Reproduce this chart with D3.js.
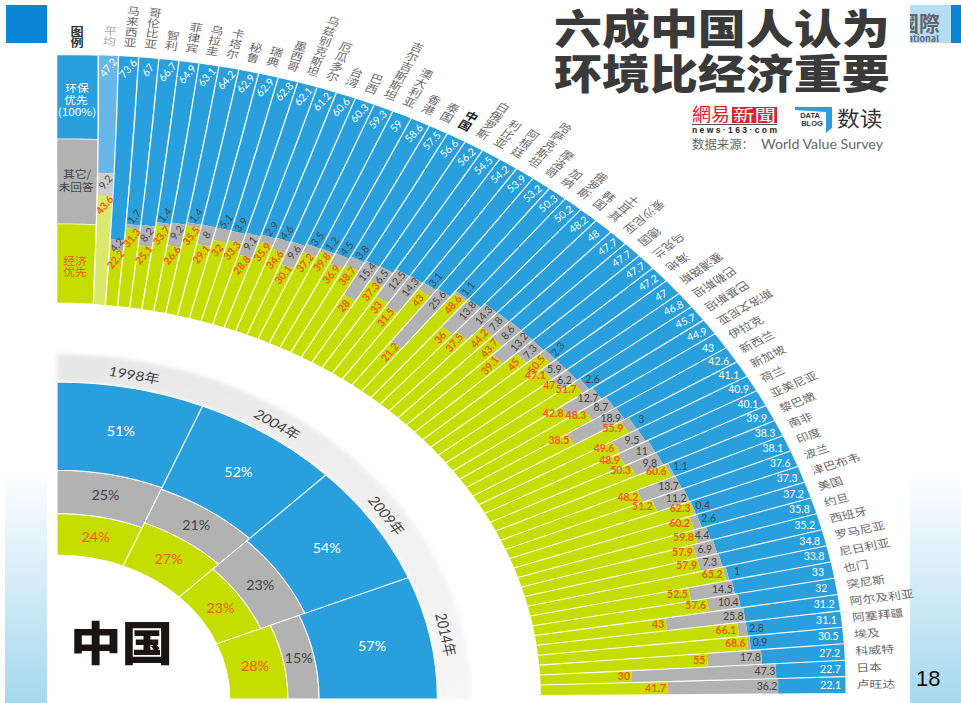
<!DOCTYPE html>
<html>
<head>
<meta charset="utf-8">
<script src="https://cdnjs.cloudflare.com/ajax/libs/d3/7.8.5/d3.min.js"></script>
<style>
  body { margin: 0; background: #fff; }
  text { font-family: "Noto Sans CJK SC", "Noto Sans", sans-serif; }
  .num { font-family: Lato, "Noto Sans", sans-serif; font-size: 10.5px; }
  .econ { font-weight: 700; }
</style>
</head>
<body>
<div id="chart"></div>
<script>
// first entry of each list is the average column
const countries = ["平均", "马来西亚", "哥伦比亚", "智利", "菲律宾", "乌拉圭", "卡塔尔", "秘鲁", "瑞典", "墨西哥", "乌兹别克斯坦",
    "厄瓜多尔", "台湾", "巴西", "吉尔吉斯斯坦", "澳大利亚", "香港", "泰国", "中国", "白俄罗斯", "利比亚",
    "阿根廷", "哈萨克斯坦", "摩洛哥", "加纳", "俄罗斯", "韩国", "土耳其", "爱沙尼亚", "德国", "乌克兰",
    "海地", "塞浦路斯", "巴勒斯坦", "巴基斯坦", "斯洛文尼亚", "伊拉克", "新西兰", "新加坡", "荷兰", "亚美尼亚",
    "黎巴嫩", "南非", "印度", "波兰", "津巴布韦", "美国", "约旦", "西班牙", "罗马尼亚", "尼日利亚",
    "也门", "突尼斯", "阿尔及利亚", "阿塞拜疆", "埃及", "科威特", "日本", "卢旺达"];
const envValues = [47.2, 73.6, 67, 66.7, 64.9, 63.1, 64.2, 62.9, 62.9, 62.8, 62.1,
    61.2, 60.6, 60.3, 59.3, 59, 58.6, 57.5, 56.6, 56.2, 54.5,
    54.2, 53.9, 53.2, 50.3, 50.2, 48.2, 48, 47.7, 47.7, 47.7,
    47.2, 47, 46.8, 45.7, 44.9, 43, 42.6, 41.1, 40.9, 40.1,
    39.9, 38.3, 38.1, 37.6, 37.3, 37.2, 35.8, 35.2, 34.8, 33.8,
    33, 32, 31.2, 31.1, 30.5, 27.2, 22.7, 22.1];
const otherValues = [9.2, 4.2, 1.7, 8.2, 1.4, 9.2, 1.4, 8, 5.1, 3.9, 9.1,
    2.9, 4.6, 9.6, 3.5, 1.2, 4.5, 3.8, 15.4, 6.5, 12.5,
    14.3, 3.1, 25.6, 1.1, 13.8, 14.3, 7.8, 8.6, 13.2, 7.3,
    2.3, 5.9, 6.2, 2.6, 12.7, 8.7, 18.9, 3, 9.5, 11,
    9.8, 1.1, 13.7, 11.2, 0.4, 2.6, 4.4, 6.9, 7.3, 1,
    14.5, 10.4, 25.8, 2.8, 0.9, 17.8, 47.3, 36.2];
const econValues = [43.6, 22.2, 31.3, 25.1, 33.7, 26.6, 35.5, 29.1, 32, 33.3, 28.8,
    35.9, 34.6, 30.1, 37.2, 39.8, 36.9, 38.7, 28, 37.3, 33,
    31.5, 43, 21.2, 48.6, 36, 37.5, 44.2, 43.7, 39.1, 45,
    50.5, 47.1, 47, 51.7, 42.8, 48.3, 38.5, 55.9, 49.6, 48.9,
    50.3, 60.6, 48.2, 51.2, 62.3, 60.2, 59.8, 57.9, 57.9, 65.2,
    52.5, 57.6, 43, 66.1, 68.6, 55, 30, 41.7];

const chinaYears = ["1998年", "2004年", "2009年", "2014年"];
const chinaEnv = [51, 52, 54, 57];
const chinaOther = [25, 21, 23, 15];
const chinaEcon = [24, 27, 23, 28];

const width = 961;
const height = 703;
const BLUE = "#29a0dd", GRAY = "#b2b2b2", GREEN = "#c5de00";
const ORANGE = "#f25a12", DARK = "#444";

const svg = d3.select("#chart").append("svg")
    .attr("width", width)
    .attr("height", height)
    .style("display", "block");

const defs = svg.append("defs");
const band = defs.append("linearGradient").attr("id", "band")
    .attr("x1", 0).attr("y1", 0).attr("x2", 0).attr("y2", 1);
band.append("stop").attr("offset", "0").attr("stop-color", "#fff");
band.append("stop").attr("offset", "1").attr("stop-color", "#a6d8ef");
const shadow = defs.append("linearGradient").attr("id", "shadow")
    .attr("x1", 0).attr("y1", 0).attr("x2", 1).attr("y2", 1);
shadow.append("stop").attr("offset", "0").attr("stop-color", "#e6e6e6");
shadow.append("stop").attr("offset", "1").attr("stop-color", "#f6f6f6");
defs.append("filter").attr("id", "soft").append("feGaussianBlur").attr("stdDeviation", 2);
defs.append("clipPath").attr("id", "patch").append("rect")
    .attr("x", 910).attr("y", 5).attr("width", 41).attr("height", 38);

// slide furniture
svg.append("rect").attr("x", 5).attr("y", 470).attr("width", 42).attr("height", 233).attr("fill", "url(#band)");
svg.append("rect").attr("x", 910).attr("y", 470).attr("width", 51).attr("height", 233).attr("fill", "url(#band)");
svg.append("rect").attr("x", 6).attr("y", 5).attr("width", 41).attr("height", 38).attr("fill", "#0a86d6");
svg.append("rect").attr("x", 910).attr("y", 5).attr("width", 41).attr("height", 38).attr("fill", "#b5ddf8");
svg.append("rect").attr("x", 951).attr("y", 5).attr("width", 10).attr("height", 38).attr("fill", "#0a86d6");
const patch = svg.append("g").attr("clip-path", "url(#patch)");
patch.append("text").attr("x", 940).attr("y", 31).attr("text-anchor", "end")
    .attr("font-size", 21).attr("font-weight", 700).attr("fill", "#666").text("國際");
patch.append("text").attr("x", 939).attr("y", 42).attr("text-anchor", "end")
    .attr("font-size", 9).attr("font-weight", 700).attr("fill", "#666").text("International");
svg.append("text").attr("x", 916).attr("y", 686)
    .style("font-family", "Liberation Sans").attr("font-size", 22).attr("fill", "#111").text("18");

// the picture is a stretched scan, so both fans are ellipses
const fanX = 57, fanY = 697, fanK = 1.228;
const rInner = 394, rOuter = 642;
const bulge = 5.5;
const n = countries.length;

// spokes lean a little near the top: outer and inner ends have their own angle
const outerAngle = d3.scaleLinear().domain([0, n]).range([3, 89.65]);
const innerAngle = d3.scaleLinear().domain([0, n]).range([4.3, 89.7]);
const radius = d3.scaleLinear().domain([0, 100]).range([rInner, rOuter]);

function polar(a, r) {
    const t = (r - rInner) / (rOuter - rInner);
    const rad = r + bulge * t * Math.sin(2 * a);
    return [rad * Math.sin(a), -rad * Math.cos(a)];
}
function angleAt(edge, r) {
    if (edge === "left") return 0;
    const t = (r - rInner) / (rOuter - rInner);
    return (innerAngle(edge) + (outerAngle(edge) - innerAngle(edge)) * t) * Math.PI / 180;
}
const spokePoint = (edge, r) => polar(angleAt(edge, r), r);
const line = d3.line();

function cellPath(edgeA, edgeB, r0, r1) {
    const pts = [];
    [0, 1, 2, 3].forEach(k => {
        const a = angleAt(edgeA, r1), b = angleAt(edgeB, r1);
        pts.push(polar(a + (b - a) * k / 3, r1));
    });
    [3, 2, 1, 0].forEach(k => {
        const a = angleAt(edgeA, r0), b = angleAt(edgeB, r0);
        pts.push(polar(a + (b - a) * k / 3, r0));
    });
    return line(pts) + "Z";
}

const fan = svg.append("g").attr("transform", `translate(${fanX},${fanY}) scale(${fanK},1)`);

// legend column
const legendRows = [
    { r0: rOuter - 84, r1: rOuter, fill: BLUE },
    { r0: rOuter - 169, r1: rOuter - 84, fill: GRAY },
    { r0: rInner, r1: rOuter - 169, fill: GREEN }
];
fan.append("g").selectAll("path").data(legendRows).join("path")
    .attr("d", d => cellPath("left", 0, d.r0, d.r1))
    .attr("fill", d => d.fill)
    .attr("stroke", "#fff").attr("stroke-width", 0.5);

// one row per column of the fan
const rows = countries.map((name, i) => ({
    i, name, env: envValues[i], other: otherValues[i], econ: econValues[i]
}));
const cellColors = i => i === 0
    ? { env: "#67b8e8", other: "#cdcdcd", econ: "#dbe96a" }
    : { env: BLUE, other: GRAY, econ: GREEN };

const cols = fan.append("g").selectAll("g").data(rows).join("g");
cols.append("path").attr("fill", d => cellColors(d.i).env)
    .attr("d", d => cellPath(d.i, d.i + 1, radius(d.econ + d.other), radius(100)));
cols.append("path").attr("fill", d => cellColors(d.i).other)
    .attr("d", d => cellPath(d.i, d.i + 1, radius(d.econ), radius(d.econ + d.other)));
cols.append("path").attr("fill", d => cellColors(d.i).econ)
    .attr("d", d => cellPath(d.i, d.i + 1, radius(0), radius(d.econ)));

// white spokes
fan.append("g").selectAll("path").data(d3.range(0, n)).join("path")
    .attr("d", i => line(d3.range(0, 5).map(k => spokePoint(i, rInner + (rOuter - rInner) * k / 4))))
    .attr("stroke", "#fff").attr("stroke-width", 1.05).attr("fill", "none");

// country names, three reading directions as in the picture
const labelGap = 9;
const midAngle = i => outerAngle(i + 0.5);
const names = fan.append("g").selectAll("text").data(rows).join("text")
    .attr("font-size", 10.5)
    .attr("fill", d => d.i === 0 ? "#aaa" : d.name === "中国" ? "#222" : "#6a6a6a")
    .attr("font-weight", d => d.name === "中国" ? 700 : 400);
names.each(function (d) {
    const t = d3.select(this).text(d.name);
    const th = midAngle(d.i);
    const R = rOuter + labelGap + bulge * Math.sin(2 * th * Math.PI / 180);
    if (d.i <= 27) {
        t.style("writing-mode", "vertical-rl").attr("text-anchor", "end")
            .attr("transform", `rotate(${th}) translate(0,${-R})`);
    } else if (d.i <= 35) {
        t.attr("text-anchor", "start").attr("dy", "0.35em")
            .attr("transform", `rotate(${th}) translate(0,${-(R + d.name.length * 10.5)}) rotate(90)`);
    } else {
        t.attr("text-anchor", "start").attr("dy", "0.35em")
            .attr("transform", `rotate(${th}) translate(0,${-R}) rotate(-90)`);
    }
});

// value labels are placed in screen space so they keep their own tilt
function screenPoint(i, r) {
    const p = spokePoint(i + 0.5, r);
    return [fanX + p[0] * fanK, fanY + p[1]];
}
const envTilt = d3.scaleLinear().domain([0, 17, 31, 35, 36, 58]).range([-50, -45, -32, -20, 0, 0]);
const innerTilt = i => i <= 31 ? -50 : 0;
const place = (i, r, tilt) => {
    const p = screenPoint(i, r);
    return `translate(${p[0]},${p[1]}) rotate(${tilt})`;
};

const labels = svg.append("g");
labels.selectAll("text.env").data(rows).join("text").attr("class", "num env")
    .attr("text-anchor", "middle").attr("dy", "0.35em").attr("fill", "#fff")
    .attr("transform", d => place(d.i, rOuter - 12, envTilt(d.i)))
    .text(d => d.env);

const otherOutside = d => d.i !== 1 && d.other < (d.i < 30 ? 5.2 : 3.5);
labels.selectAll("text.other").data(rows).join("text").attr("class", "num other")
    .attr("text-anchor", "middle").attr("dy", "0.35em").attr("fill", DARK)
    .attr("transform", d => {
        const top = radius(d.econ + d.other);
        const r = otherOutside(d) ? top + 8 : Math.max(radius(d.econ + d.other / 2), top - 9);
        return place(d.i, r, innerTilt(d.i));
    })
    .text(d => d.other);

labels.selectAll("text.econ").data(rows).join("text").attr("class", "num econ")
    .attr("text-anchor", d => d.i <= 31 ? "middle" : "end").attr("dy", "0.35em").attr("fill", ORANGE)
    .attr("transform", d => place(d.i, radius(d.econ) - (d.i <= 31 ? 9 : 1.5), innerTilt(d.i)))
    .text(d => d.econ);

// legend text
const legendText = [
    { t: "环保", x: 77, y: 88, c: "#fff" }, { t: "优先", x: 76, y: 100, c: "#fff" }, { t: "(100%)", x: 77, y: 112, c: "#fff" },
    { t: "其它/", x: 77, y: 174, c: DARK }, { t: "未回答", x: 76, y: 187, c: DARK },
    { t: "经济", x: 75, y: 261, c: ORANGE }, { t: "优先", x: 75, y: 272, c: ORANGE }
];
svg.append("g").selectAll("text").data(legendText).join("text")
    .attr("transform", d => `translate(${d.x},${d.y}) scale(1.12,1)`)
    .attr("text-anchor", "middle").attr("dy", "0.35em")
    .attr("font-size", 10.5).attr("fill", d => d.c).text(d => d.t);
svg.append("text").attr("transform", "translate(77,26) scale(1.2,1)")
    .style("writing-mode", "vertical-rl")
    .attr("font-size", 11).attr("font-weight", 700).attr("fill", "#333").text("图例");

// China fan, quarter split in four survey years
const chinaX = 57, chinaY = 699, chinaK = 1.2;
const chinaR = d3.scaleLinear().domain([0, 100]).range([144, 317]);
const chinaAngle = d3.scaleBand().domain(chinaYears).range([0, Math.PI / 2]);
const arc = d3.arc();
const china = svg.append("g").attr("transform", `translate(${chinaX},${chinaY}) scale(${chinaK},1)`);

china.append("path")
    .attr("d", arc({ innerRadius: 317, outerRadius: 345, startAngle: 0, endAngle: Math.PI / 2 }))
    .attr("fill", "url(#shadow)").attr("filter", "url(#soft)");

const chinaCells = [];
chinaYears.forEach((year, i) => {
    const econ = chinaEcon[i], other = chinaOther[i], env = chinaEnv[i];
    chinaCells.push({ year, v: econ, lo: 0, hi: econ, fill: GREEN, color: ORANGE });
    chinaCells.push({ year, v: other, lo: econ, hi: econ + other, fill: GRAY, color: DARK });
    chinaCells.push({ year, v: env, lo: econ + other, hi: 100, fill: BLUE, color: "#fff" });
});
const cellArc = d => ({
    innerRadius: chinaR(d.lo),
    outerRadius: chinaR(d.hi),
    startAngle: chinaAngle(d.year),
    endAngle: chinaAngle(d.year) + chinaAngle.bandwidth()
});
china.append("g").selectAll("path").data(chinaCells).join("path")
    .attr("d", d => arc(cellArc(d)))
    .attr("fill", d => d.fill)
    .attr("stroke", "#fff").attr("stroke-width", 0.9);

svg.append("g").selectAll("text").data(chinaCells).join("text")
    .attr("transform", d => {
        const c = arc.centroid(cellArc(d));
        return `translate(${chinaX + c[0] * chinaK},${chinaY + c[1]}) scale(1.1,1)`;
    })
    .attr("text-anchor", "middle").attr("dy", "0.35em")
    .style("font-family", "Lato, sans-serif")
    .attr("font-size", 13).attr("fill", d => d.color)
    .text(d => d.v + "%");

china.append("g").selectAll("text").data(chinaYears).join("text")
    .attr("transform", d => {
        const a = (chinaAngle(d) + chinaAngle.bandwidth() / 2) * 180 / Math.PI;
        return `rotate(${a}) translate(0,-330)`;
    })
    .attr("text-anchor", "middle").attr("dy", "0.35em")
    .style("font-family", "Lato, 'Noto Sans CJK SC', sans-serif")
    .attr("font-size", 13).attr("fill", DARK).text(d => d);

svg.append("text").attr("transform", "translate(70,660) scale(1.12,1)")
    .attr("font-size", 46).attr("font-weight", 900).attr("fill", "#1a1414").text("中国");

// title block
svg.append("text").attr("transform", "translate(554,44) scale(1.17,1)")
    .attr("font-size", 41).attr("font-weight", 900).attr("fill", "#3a3a3a").text("六成中国人认为");
svg.append("text").attr("transform", "translate(554,89) scale(1.17,1)")
    .attr("font-size", 41).attr("font-weight", 900).attr("fill", "#3a3a3a").text("环境比经济重要");

// news logo
svg.append("text").attr("x", 692).attr("y", 121).attr("font-size", 18)
    .attr("fill", "#d8232a").attr("textLength", 38).attr("lengthAdjust", "spacingAndGlyphs").text("網易");
svg.append("rect").attr("x", 732).attr("y", 107).attr("width", 45).attr("height", 16).attr("fill", "#d8232a");
svg.append("text").attr("x", 733).attr("y", 121).attr("font-size", 16)
    .attr("fill", "#fff").attr("textLength", 43).attr("lengthAdjust", "spacingAndGlyphs").text("新聞");
svg.append("rect").attr("x", 692).attr("y", 124).attr("width", 85).attr("height", 1).attr("fill", "#555");
svg.append("text").attr("x", 692).attr("y", 133).style("font-family", "Liberation Sans")
    .attr("font-size", 8.5).attr("font-weight", 700).attr("fill", "#222")
    .attr("textLength", 85).text("news·163·com");

// data blog logo
svg.append("path").attr("d", "M795,107L832,107L832,128L826,133L826,112L795,110Z").attr("fill", "#29a0dd");
svg.append("text").attr("x", 810).attr("y", 118).attr("text-anchor", "middle").style("font-family", "Liberation Sans")
    .attr("font-size", 7.5).attr("font-weight", 700).attr("fill", "#333").text("DATA");
svg.append("text").attr("x", 812).attr("y", 126).attr("text-anchor", "middle").style("font-family", "Liberation Sans")
    .attr("font-size", 7.5).attr("font-weight", 700).attr("fill", "#333").text("BLOG");
svg.append("text").attr("transform", "translate(837,126) scale(1.08,1)")
    .attr("font-size", 21).attr("fill", "#333").text("数读");

svg.append("text").attr("x", 692).attr("y", 149).attr("font-size", 12).attr("fill", "#666")
    .attr("textLength", 62).attr("lengthAdjust", "spacingAndGlyphs").text("数据来源：");
svg.append("text").attr("x", 761).attr("y", 149).style("font-family", "Lato, sans-serif")
    .attr("font-size", 13).attr("fill", "#666")
    .attr("textLength", 122).attr("lengthAdjust", "spacingAndGlyphs").text("World Value Survey");
</script>
</body>
</html>
